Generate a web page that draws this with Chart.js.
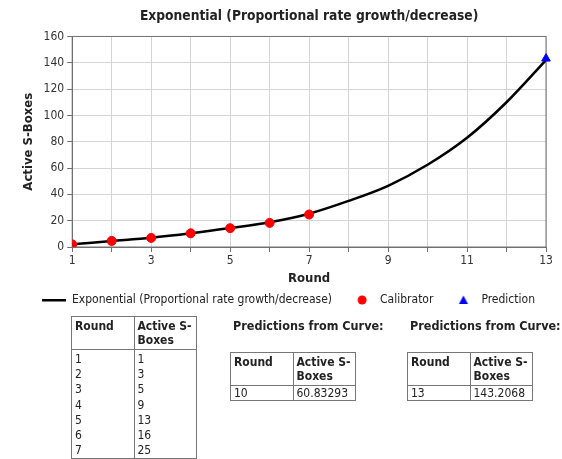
<!DOCTYPE html>
<html>
<head>
<meta charset="utf-8">
<script src="https://cdn.jsdelivr.net/npm/chart.js@4"></script>
<style>
  body { margin: 0; background: #fff; font-family: "DejaVu Sans Condensed", "DejaVu Sans", sans-serif; color: #222; }
  #wrap { position: relative; width: 562px; height: 459px; overflow: hidden; }
  #chartBox { position: absolute; left: 0; top: 0; width: 562px; height: 320px; }
  table { position: absolute; border-collapse: collapse; font-size: 12px; table-layout: fixed; }
  th, td { border: 1px solid #777; padding: 0 3px; text-align: left; vertical-align: top; line-height: 14px; font-weight: normal; }
  th { font-weight: bold; padding-top: 2px; height: 30px; }
  #calTable td { border-top: none; border-bottom: none; line-height: 15.2px; }
  #calTable tr:nth-child(2) td { padding-top: 2px; }
  #calTable tr:last-child td { border-bottom: 1px solid #777; }
  .head { position: absolute; font-weight: bold; font-size: 12.5px; white-space: nowrap; }
</style>
</head>
<body>
<div id="wrap">
  <div id="chartBox"><canvas id="chart"></canvas></div>
  <table id="calTable" style="left:71px; top:316px; width:126px;"></table>
  <div class="head" style="left:233px; top:318px;">Predictions from Curve:</div>
  <table id="predTableA" style="left:230px; top:352px; width:126px;"></table>
  <div class="head" style="left:410px; top:318px;">Predictions from Curve:</div>
  <table id="predTableB" style="left:407px; top:352px; width:126px;"></table>
</div>
<script>
// curve, one value per round
const curveRounds = [1, 2, 3, 4, 5, 6, 7, 8, 9, 10, 11, 12, 13];
const curveSBoxes = [2, 4.5, 7, 10.4, 14.4, 18.8, 25.3, 35, 46.5, 62.5, 83, 110, 142];

// plotted markers
const calibratorRounds = [1, 2, 3, 4, 5, 6, 7];
const calibratorSBoxes = [2, 4.6, 6.9, 10.4, 14.3, 18.3, 24.7];
const predictionRounds = [13];
const predictionSBoxes = [143.2];

const xLabels = [1, 3, 5, 7, 9, 11, 13];

// tables under the chart
const tableRounds = [1, 2, 3, 4, 5, 6, 7];
const tableSBoxes = [1, 3, 5, 9, 13, 16, 25];
const predRoundsA = ["10"];
const predValuesA = ["60.83293"];
const predRoundsB = ["13"];
const predValuesB = ["143.2068"];

const FONT = "'DejaVu Sans Condensed', 'DejaVu Sans', sans-serif";

function toPoints(xs, ys) {
  return xs.map((x, i) => ({ x: x, y: ys[i] }));
}

// Function to fill a two column table
function fillTable(id, rounds, values) {
  const t = document.getElementById(id);
  let html = '<colgroup><col style="width:50%"><col style="width:50%"></colgroup>';
  html += '<tr><th>Round</th><th>Active S-<br>Boxes</th></tr>';
  for (let i = 0; i < rounds.length; i++) {
    html += '<tr><td>' + rounds[i] + '</td><td>' + values[i] + '</td></tr>';
  }
  t.innerHTML = html;
}
fillTable("calTable", tableRounds, tableSBoxes);
fillTable("predTableA", predRoundsA, predValuesA);
fillTable("predTableB", predRoundsB, predValuesB);

// small canvases used as legend symbols, by dataset index
const ICON_W = 34;
function makeIcon(draw) {
  const c = document.createElement("canvas");
  c.width = ICON_W; c.height = 12;
  draw(c.getContext("2d"));
  return c;
}
const legendIcons = [
  makeIcon(g => { g.fillStyle = "#000"; g.fillRect(10, 5, 24, 2.5); }),
  makeIcon(g => { g.fillStyle = "#ff0000"; g.beginPath(); g.arc(22, 6, 4.5, 0, Math.PI * 2); g.fill(); }),
  makeIcon(g => { g.fillStyle = "#0000ff"; g.beginPath(); g.moveTo(22, 1.5); g.lineTo(26.5, 10); g.lineTo(17.5, 10); g.closePath(); g.fill(); })
];

// frame round the plot area
const plotFrame = {
  id: "plotFrame",
  beforeDatasetsDraw(chart) {
    const a = chart.chartArea, g = chart.ctx;
    g.save();
    g.strokeStyle = "#707070";
    g.lineWidth = 1;
    g.strokeRect(a.left, a.top, a.right - a.left, a.bottom - a.top);
    g.restore();
  }
};

const ctx = document.getElementById("chart").getContext("2d");
new Chart(ctx, {
  type: "scatter",
  data: {
    datasets: [
      {
        label: "Exponential (Proportional rate growth/decrease)",
        data: toPoints(curveRounds, curveSBoxes),
        showLine: true,
        borderColor: "#000",
        backgroundColor: "#000",
        borderWidth: 2.5,
        pointRadius: 0,
        cubicInterpolationMode: "monotone",
        order: 3
      },
      {
        label: "Calibrator",
        data: toPoints(calibratorRounds, calibratorSBoxes),
        backgroundColor: "#ff0000",
        borderColor: "#ff0000",
        pointStyle: "circle",
        pointRadius: 4.5,
        order: 1
      },
      {
        label: "Prediction",
        data: toPoints(predictionRounds, predictionSBoxes),
        backgroundColor: "#0000ff",
        borderColor: "#0000ff",
        pointStyle: "triangle",
        pointRadius: 5,
        clip: false,
        order: 0
      }
    ]
  },
  options: {
    maintainAspectRatio: false,
    responsive: true,
    animation: false,
    layout: { padding: { left: 21, right: 16, top: 2, bottom: 4 } },
    plugins: {
      title: {
        display: true,
        text: "Exponential (Proportional rate growth/decrease)",
        fullSize: false,
        color: "#222",
        font: { family: FONT, size: 13.7, weight: "bold" },
        padding: { top: 6, bottom: 12 }
      },
      legend: {
        position: "bottom",
        labels: {
          usePointStyle: true,
          pointStyleWidth: ICON_W,
          color: "#222",
          padding: 8,
          font: { family: FONT, size: 12 },
          sort: (a, b) => a.datasetIndex - b.datasetIndex,
          generateLabels(chart) {
            const items = Chart.defaults.plugins.legend.labels.generateLabels(chart);
            return items.map(it => Object.assign(it, { pointStyle: legendIcons[it.datasetIndex] }));
          }
        }
      },
      tooltip: { enabled: false }
    },
    scales: {
      x: {
        type: "linear",
        min: 1,
        max: 13,
        grid: { color: "#d4d4d4", tickLength: 5, tickColor: "#707070" },
        border: { color: "#707070" },
        ticks: {
          stepSize: 1,
          autoSkip: false,
          maxRotation: 0,
          padding: 2,
          color: "#333",
          font: { family: FONT, size: 12 },
          callback: v => xLabels.includes(v) ? String(v) : ""
        },
        title: {
          display: true,
          text: "Round",
          color: "#222",
          font: { family: FONT, size: 13, weight: "bold" },
          padding: { top: 0, bottom: 0 }
        }
      },
      y: {
        min: 0,
        max: 160,
        grid: { color: "#d4d4d4", tickLength: 5, tickColor: "#707070" },
        border: { color: "#707070" },
        ticks: {
          stepSize: 20,
          padding: 3,
          color: "#333",
          font: { family: FONT, size: 12 }
        },
        title: {
          display: true,
          text: "Active S-Boxes",
          color: "#222",
          font: { family: FONT, size: 13, weight: "bold" },
          padding: { top: 0, bottom: 4 }
        }
      }
    }
  },
  plugins: [plotFrame]
});
</script>
</body>
</html>
